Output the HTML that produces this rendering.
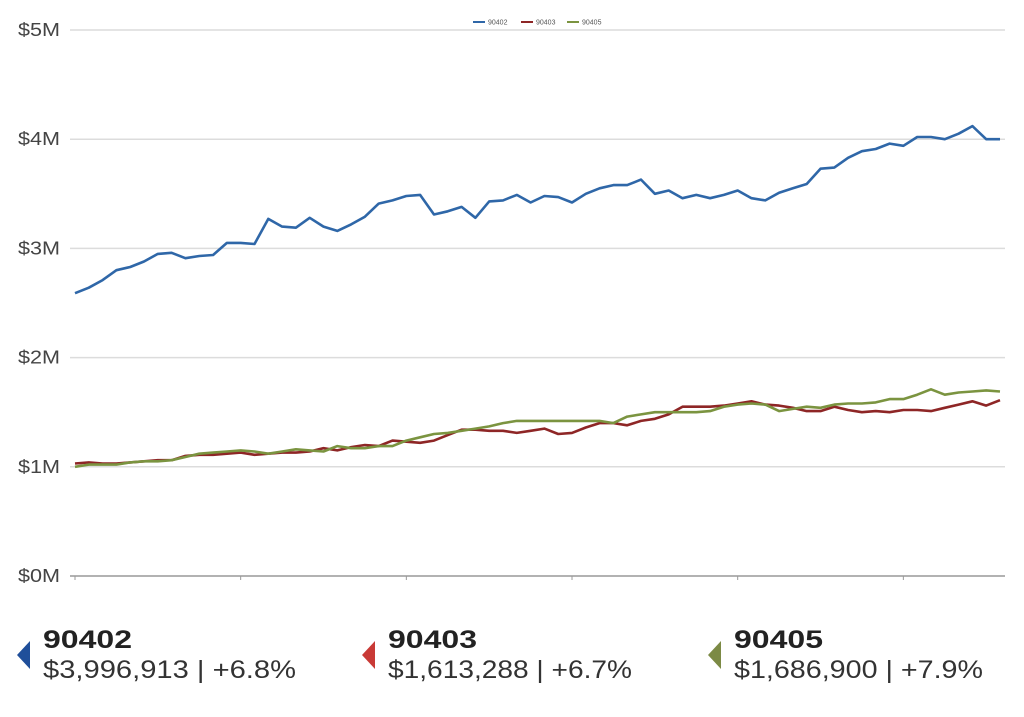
<!DOCTYPE html>
<html><head><meta charset="utf-8"><style>
html,body{margin:0;padding:0;background:#fff;}
body{width:1024px;height:712px;overflow:hidden;font-family:"Liberation Sans",sans-serif;}
</style></head><body>
<svg id="chart" width="1024" height="712" viewBox="0 0 1024 712" xmlns="http://www.w3.org/2000/svg">
<g id="grid"></g><g id="axis"></g><g id="lines"></g><g id="legend"></g><g id="summary"></g>
</svg>
<script>
const series90402 = [2.59,2.64,2.71,2.80,2.83,2.88,2.95,2.96,2.91,2.93, 2.94,3.05,3.05,3.04,3.27,3.20,3.19,3.28,3.20,3.16, 3.22,3.29,3.41,3.44,3.48,3.49,3.31,3.34,3.38,3.28, 3.43,3.44,3.49,3.42,3.48,3.47,3.42,3.50,3.55,3.58, 3.58,3.63,3.50,3.53,3.46,3.49,3.46,3.49,3.53,3.46, 3.44,3.51,3.55,3.59,3.73,3.74,3.83,3.89,3.91,3.96, 3.94,4.02,4.02,4.00,4.05,4.12,4.00,4.00];
const series90403 = [1.03,1.04,1.03,1.03,1.04,1.05,1.06,1.06,1.10,1.11, 1.11,1.12,1.13,1.11,1.12,1.13,1.13,1.14,1.17,1.15, 1.18,1.20,1.19,1.24,1.23,1.22,1.24,1.29,1.34,1.34, 1.33,1.33,1.31,1.33,1.35,1.30,1.31,1.36,1.40,1.40, 1.38,1.42,1.44,1.48,1.55,1.55,1.55,1.56,1.58,1.60, 1.57,1.56,1.54,1.51,1.51,1.55,1.52,1.50,1.51,1.50, 1.52,1.52,1.51,1.54,1.57,1.60,1.56,1.61];
const series90405 = [1.00,1.02,1.02,1.02,1.04,1.05,1.05,1.06,1.09,1.12, 1.13,1.14,1.15,1.14,1.12,1.14,1.16,1.15,1.14,1.19, 1.17,1.17,1.19,1.19,1.24,1.27,1.30,1.31,1.33,1.35, 1.37,1.40,1.42,1.42,1.42,1.42,1.42,1.42,1.42,1.40, 1.46,1.48,1.50,1.50,1.50,1.50,1.51,1.55,1.57,1.58, 1.57,1.51,1.53,1.55,1.54,1.57,1.58,1.58,1.59,1.62, 1.62,1.66,1.71,1.66,1.68,1.69,1.70,1.69];
const yTicks = [0,1,2,3,4,5];
const yTickLabels = ["$0M","$1M","$2M","$3M","$4M","$5M"];
const seriesNames = ["90402","90403","90405"];
const seriesColors = ["#2f67a8","#8e2626","#7b9440"];
const markerColors = ["#1f4f9a","#c93a36","#7c8a45"];
const summaryValues = ["$3,996,913 | +6.8%","$1,613,288 | +6.7%","$1,686,900 | +7.9%"];
const summaryWidths = [253,244,249];

const NS="http://www.w3.org/2000/svg";
const x0=75,x1=1000,y0=576,pxPerM=109.2;
const n=series90402.length;
const xs=i=>x0+(x1-x0)*i/(n-1);
const ys=v=>y0-v*pxPerM;
function mk(tag,attrs,parent){const e=document.createElementNS(NS,tag);for(const k in attrs)e.setAttribute(k,attrs[k]);parent.appendChild(e);return e;}
const grid=document.getElementById('grid'),axis=document.getElementById('axis'),lines=document.getElementById('lines'),legend=document.getElementById('legend'),summary=document.getElementById('summary');
yTicks.forEach((t,i)=>{
  if(t>0){const g=mk('line',{x1:70,x2:1005,y1:ys(t),y2:ys(t),stroke:'#dcdcdc','stroke-width':1.5},grid);
  
  }
  const tx=mk('text',{x:18,y:ys(t)+6,'font-size':18,fill:'#444',textLength:42,lengthAdjust:'spacingAndGlyphs'},axis);
  tx.textContent=yTickLabels[i];
  
  
});
const al=mk('line',{x1:70,x2:1005,y1:y0,y2:y0,stroke:'#999','stroke-width':1.5},axis);


for(let i=0;i<n;i+=12){const tk=mk('line',{x1:xs(i),x2:xs(i),y1:y0,y2:y0+4,stroke:'#999','stroke-width':1},axis);
  
  }
[series90402,series90403,series90405].forEach((s,k)=>{
  const p=mk('polyline',{points:s.map((v,i)=>xs(i).toFixed(1)+','+ys(v).toFixed(1)).join(' '),fill:'none',stroke:seriesColors[k],'stroke-width':2.6,'stroke-linejoin':'round'},lines);
  
  
});
const lx=[473,521,567];
seriesNames.forEach((nm,k)=>{
  const sw=mk('line',{x1:lx[k],x2:lx[k]+12,y1:22,y2:22,stroke:seriesColors[k],'stroke-width':2},legend);
  
  
  const t=mk('text',{x:lx[k]+15,y:24.5,'font-size':7,fill:'#555'},legend);
  t.textContent=nm;
  
  
});
const sx=[17,362,708];
seriesNames.forEach((nm,k)=>{
  const tri=mk('polygon',{points:`${sx[k]+13},641 ${sx[k]},655 ${sx[k]+13},669`,fill:markerColors[k]},summary);
  
  
  const h=mk('text',{x:sx[k]+26,y:648,'font-size':25,'font-weight':'bold',fill:'#222',textLength:89,lengthAdjust:'spacingAndGlyphs'},summary);
  h.textContent=nm;
  
  
  const v=mk('text',{x:sx[k]+26,y:678,'font-size':25,fill:'#333',textLength:summaryWidths[k],lengthAdjust:'spacingAndGlyphs'},summary);
  v.textContent=summaryValues[k];
  
  
});
</script>
</body></html>
